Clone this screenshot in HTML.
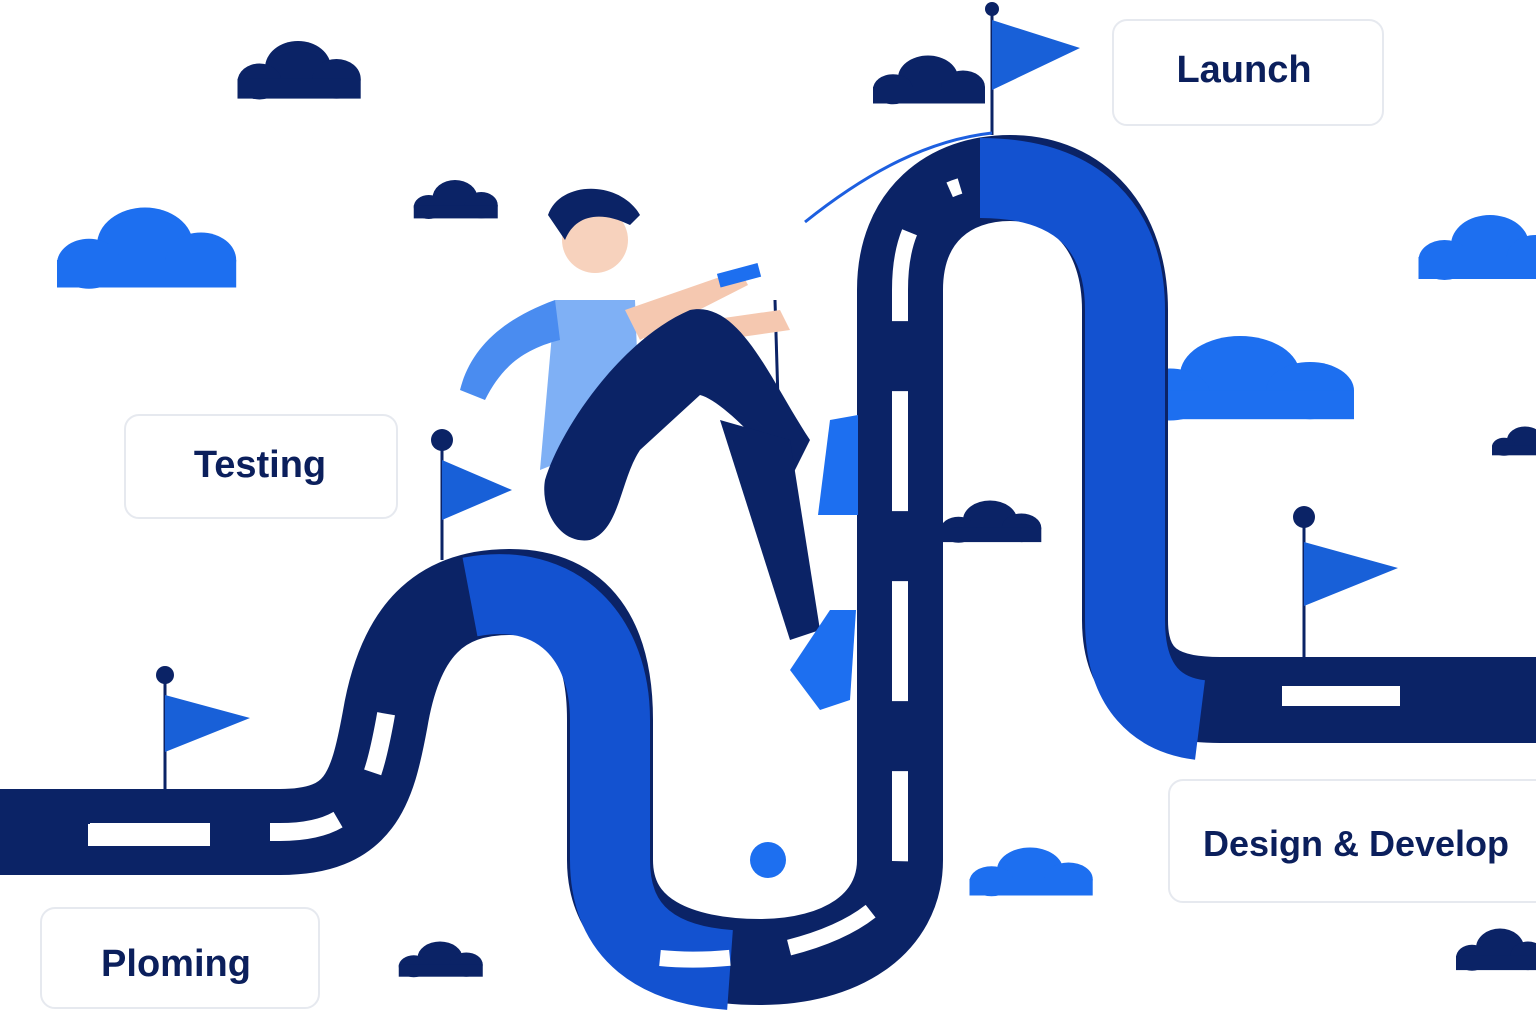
<!DOCTYPE html>
<html><head><meta charset="utf-8"><style>
html,body{margin:0;padding:0;background:#fff;}
svg{display:block}
text{font-family:"Liberation Sans",sans-serif;font-weight:bold;fill:#0b1f5c}
</style></head><body>
<svg width="1536" height="1024" viewBox="0 0 1536 1024" xmlns="http://www.w3.org/2000/svg">
<defs>
<g id="cloud"><circle cx="0" cy="0" r="30"/><circle cx="-35" cy="15" r="20"/><circle cx="35" cy="12" r="22"/><rect x="-55" y="12" width="112" height="22"/></g>
</defs>
<g fill="#0b2366">
<g transform="translate(298,68) scale(1.1,0.9)"><use href="#cloud"/></g>
<g transform="translate(928,78) scale(1,0.75)"><use href="#cloud"/></g>
<g transform="translate(455,198) scale(0.75,0.6)"><use href="#cloud"/></g>
<g transform="translate(990,520) scale(0.9,0.65)"><use href="#cloud"/></g>
<g transform="translate(440,958) scale(0.75,0.55)"><use href="#cloud"/></g>
<g transform="translate(1500,948) scale(0.8,0.65)"><use href="#cloud"/></g>
<g transform="translate(1525,440) scale(0.6,0.45)"><use href="#cloud"/></g>
</g>
<g fill="#1d6ff0">
<g transform="translate(145,245) scale(1.6,1.25)"><use href="#cloud"/></g>
<g transform="translate(1240,375) scale(2,1.3)"><use href="#cloud"/></g>
<g transform="translate(1490,245) scale(1.3,1)"><use href="#cloud"/></g>
<g transform="translate(1030,870) scale(1.1,0.75)"><use href="#cloud"/></g>
</g>
<!-- road -->
<path d="M0,832 L280,832 C360,832 372,790 385,720 C400,630 440,592 510,592 C580,592 610,640 610,720 L610,860 C610,935 680,962 760,962 C840,962 900,925 900,860 L900,290 C900,215 950,178 1010,178 C1080,178 1125,230 1125,310 L1125,620 C1125,680 1160,700 1220,700 L1536,700" fill="none" stroke="#0b2366" stroke-width="86"/>
<path d="M470,597 C560,580 610,640 610,720 L610,860 C610,935 660,965 730,970" fill="none" stroke="#1352d0" stroke-width="80"/>
<path d="M980,178 C1080,178 1125,230 1125,310 L1125,620 C1125,690 1160,715 1200,720" fill="none" stroke="#1352d0" stroke-width="80"/>
<path d="M0,832 L280,832 C360,832 372,790 385,720 C400,630 440,592 510,592" fill="none" stroke="#fff" stroke-width="18" stroke-dasharray="0 90 120 60 70 60 60 400"/>
<path d="M660,958 C760,968 900,930 900,860 L900,290 C900,220 930,195 960,186" fill="none" stroke="#fff" stroke-width="16" stroke-dasharray="70 60 90 60 90 70 120 70 120 70 90 60"/>
<rect x="88" y="824" width="122" height="22" fill="#fff"/>
<rect x="1282" y="686" width="118" height="20" fill="#fff"/>
<g stroke="#0b2366" stroke-width="3">
<line x1="165" y1="675" x2="165" y2="790"/><line x1="442" y1="442" x2="442" y2="560"/><line x1="992" y1="10" x2="992" y2="135"/><line x1="1304" y1="518" x2="1304" y2="660"/>
</g>
<g fill="#0b2366"><circle cx="165" cy="675" r="9"/><circle cx="442" cy="440" r="11"/><circle cx="992" cy="9" r="7"/><circle cx="1304" cy="517" r="11"/></g>
<g fill="#1860d8">
<polygon points="165,695 250,718 165,752"/><polygon points="442,460 512,490 442,520"/><polygon points="992,20 1080,48 992,90"/><polygon points="1304,542 1398,568 1304,606"/>
</g>
<path d="M805,222 C870,170 930,140 992,133" fill="none" stroke="#1d5fe0" stroke-width="3"/>
<g fill="#fff" stroke="#e6e9ef" stroke-width="2">
<rect x="1113" y="20" width="270" height="105" rx="14"/>
<rect x="125" y="415" width="272" height="103" rx="14"/>
<rect x="41" y="908" width="278" height="100" rx="14"/>
<rect x="1169" y="780" width="380" height="122" rx="14"/>
</g>
<text x="1244" y="82" font-size="38" text-anchor="middle">Launch</text>
<text x="260" y="477" font-size="38" text-anchor="middle">Testing</text>
<text x="176" y="976" font-size="38" text-anchor="middle">Ploming</text>
<text x="1356" y="856" font-size="36" text-anchor="middle">Design &amp; Develop</text>
<line x1="775" y1="300" x2="778" y2="400" stroke="#0b2366" stroke-width="3"/>
<path d="M555,300 L635,300 L640,430 L540,470 Z" fill="#7fb0f5"/>
<path d="M555,300 C500,320 470,350 460,390 L485,400 C500,370 520,350 560,340 Z" fill="#4a8cf0"/>
<path d="M625,310 L740,270 L748,285 L640,340 Z" fill="#f5c8b0"/>
<path d="M640,330 L780,310 L790,330 L650,350 Z" fill="#f5c8b0"/>
<rect x="718" y="268" width="42" height="14" fill="#1d6ff0" transform="rotate(-15 740 275)"/>
<circle cx="595" cy="240" r="33" fill="#f7d2bd"/>
<path d="M548,215 C560,180 620,180 640,215 L630,225 C600,210 575,215 565,240 Z" fill="#0b2366"/>
<path d="M545,480 C560,430 620,340 690,310 C740,300 770,380 810,440 L790,480 C760,440 720,400 700,395 L640,450 C620,480 620,530 590,540 C560,545 540,510 545,480 Z" fill="#0b2366"/>
<path d="M720,420 L790,440 L820,630 L790,640 Z" fill="#0b2366"/>
<path d="M830,420 L858,415 L858,515 L818,515 Z" fill="#1d6ff0"/>
<path d="M790,670 L830,610 L856,610 L850,700 L820,710 Z" fill="#1d6ff0"/>
<circle cx="768" cy="860" r="18" fill="#1d6ff0"/>
</svg>
</body></html>
